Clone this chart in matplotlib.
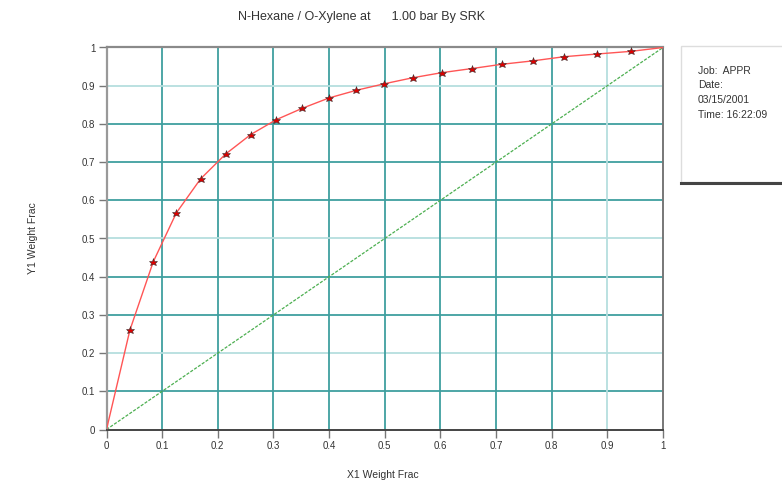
import matplotlib
matplotlib.use("Agg")
import matplotlib.pyplot as plt
from matplotlib.patches import Rectangle
from matplotlib.lines import Line2D

plt.rcParams['font.family'] = ['Liberation Sans', 'DejaVu Sans']

# Data (X1 weight fraction vs Y1 weight fraction)
x1_points = [0.042, 0.084, 0.1255, 0.169, 0.214, 0.259, 0.305, 0.352, 0.400,
             0.449, 0.499, 0.551, 0.602, 0.657, 0.710, 0.766, 0.823, 0.882, 0.943]
y1_points = [0.260, 0.439, 0.567, 0.656, 0.721, 0.772, 0.811, 0.841, 0.868,
             0.888, 0.905, 0.921, 0.934, 0.945, 0.956, 0.965, 0.976, 0.983, 0.990]
curve_x = [0.0] + x1_points + [1.0]
curve_y = [0.0] + y1_points + [1.0]
diag = [0.0, 1.0]
ticks = [0, 0.1, 0.2, 0.3, 0.4, 0.5, 0.6, 0.7, 0.8, 0.9, 1]
tick_labels = ['0', '0.1', '0.2', '0.3', '0.4', '0.5', '0.6', '0.7', '0.8', '0.9', '1']
title = "N-Hexane / O-Xylene at      1.00 bar By SRK"
info_lines = ["Job:  APPR", "Date:", "03/15/2001", "Time: 16:22:09"]

W, H = 782, 486
fig = plt.figure(figsize=(W / 100, H / 100), dpi=100)
ax = fig.add_axes([106.5 / W, 1 - 429.5 / H, (663 - 106.5) / W, (429.5 - 47.5) / H])
ax.set_xlim(0, 1)
ax.set_ylim(0, 1)

dark_teal = '#3f9f9f'
light_teal = '#b5dede'
for t in ticks[1:-1]:
    c = light_teal if t in (0.2, 0.5, 0.9) else dark_teal
    ax.axhline(t, color=c, lw=1.3, zorder=1)
    cv = light_teal if t == 0.9 else dark_teal
    ax.axvline(t, color=cv, lw=1.3, zorder=1)

ax.plot(diag, diag, color='#4caf50', lw=0.9, ls=(0, (2.5, 1.2)), zorder=2)
ax.plot(curve_x, curve_y, color='#ff5555', lw=1.0, zorder=3)
ax.plot(x1_points, y1_points, ls='none', marker='*', ms=6.2,
        markerfacecolor='#dd0000', markeredgecolor='#333333', markeredgewidth=0.4, zorder=4)

ax.set_xticks(ticks)
ax.set_xticklabels(tick_labels)
ax.set_yticks(ticks)
ax.set_yticklabels(tick_labels)
ax.tick_params(axis='both', direction='out', length=6, width=1, color='#777777',
               labelsize=7, labelcolor='#333333', pad=2)

ax.spines['left'].set_color('#999999')
ax.spines['left'].set_linewidth(1.6)
ax.spines['top'].set_color('#8a8a8a')
ax.spines['top'].set_linewidth(1.6)
ax.spines['right'].set_color('#777777')
ax.spines['right'].set_linewidth(1.4)
ax.spines['bottom'].set_color('#444444')
ax.spines['bottom'].set_linewidth(1.4)

fig.text(361 / W, 1 - 17 / H, title, ha='center', va='center', fontsize=9, color='#333333')
fig.text(383 / W, 1 - 475 / H, "X1 Weight Frac", ha='center', va='center', fontsize=7.5, color='#333333')
fig.text(33 / W, 1 - 238 / H, "Y1 Weight Frac", ha='center', va='center', fontsize=7.5,
         color='#333333', rotation=90)

# Info box
box = Rectangle((681 / W, 1 - 182 / H), (W - 681) / W + 0.01, (182 - 46) / H,
                transform=fig.transFigure, facecolor='white', edgecolor='#dddddd', lw=1.0)
fig.patches.append(box)
fig.lines.append(Line2D([681 / W, 1], [1 - 183 / H, 1 - 183 / H], transform=fig.transFigure,
                        color='#444444', lw=2.2))
for i, line in enumerate(info_lines):
    fig.text(698 / W, 1 - (71 + i * 14.5) / H, line, ha='left', va='center', fontsize=7.5,
             color='#333333')

fig.savefig('out.png', dpi=100)
